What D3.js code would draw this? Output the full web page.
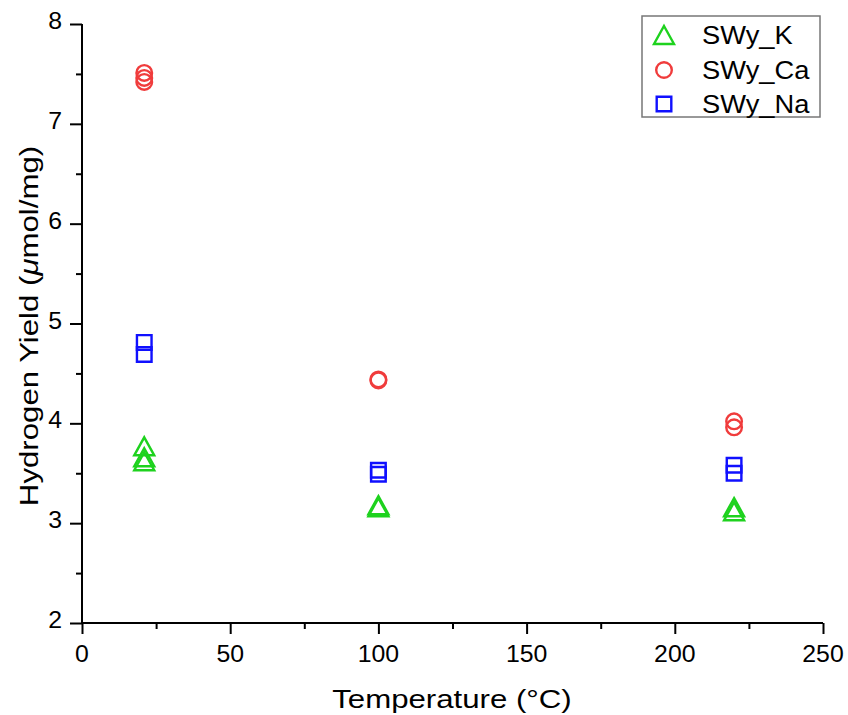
<!DOCTYPE html>
<html><head><meta charset="utf-8">
<script src="https://cdn.jsdelivr.net/npm/d3@7"></script>
<style>body{margin:0;background:#fff}svg{display:block}text{font-family:"Liberation Sans",Arial,sans-serif;fill:#000}</style>
</head><body><svg id="c" width="848" height="715"></svg>
<script>
// data
const seriesNames = ["SWy_K", "SWy_Ca", "SWy_Na"];
const kTemp  = [21, 21, 21, 100, 100, 220, 220];
const kYield = [3.77, 3.66, 3.62, 3.18, 3.16, 3.16, 3.12];
const caTemp  = [21, 21, 21, 100, 100, 220, 220];
const caYield = [7.51, 7.46, 7.42, 4.44, 4.43, 4.02, 3.96];
const naTemp  = [21, 21, 100, 100, 220, 220];
const naYield = [4.81, 4.69, 3.53, 3.49, 3.58, 3.50];
const xTicks = [0, 50, 100, 150, 200, 250];
const yTicks = [2, 3, 4, 5, 6, 7, 8];

const svg = d3.select("#c");
const x = d3.scaleLinear().domain([0, 250]).range([82, 823]);
const y = d3.scaleLinear().domain([2, 8]).range([623, 24]);

const green = "#1ed21e", red = "#f03c3c", blue = "#1010ff";

// axes
const xAxis = svg.append("g").attr("transform", `translate(0,${y(2)})`);
xAxis.call(d3.axisBottom(x).tickValues(d3.range(0, 251, 25)).tickSize(6).tickFormat(""));
xAxis.call(g => g.selectAll(".tick").filter(d => d % 50 === 0).select("line").attr("y2", 11));
const yAxis = svg.append("g").attr("transform", `translate(${x(0)},0)`);
yAxis.call(d3.axisLeft(y).tickValues(d3.range(2, 8.01, 0.5)).tickSize(6).tickFormat(""));
yAxis.call(g => g.selectAll(".tick").filter(d => Math.abs(d - Math.round(d)) < 1e-6).select("line").attr("x2", -12));
svg.selectAll(".domain").attr("stroke", "#000").attr("stroke-width", 2);
xAxis.select(".domain").attr("d", `M${x(0)},0H${x(250)}`);
yAxis.select(".domain").attr("d", `M0,${y(2)}V${y(8)}`);
svg.selectAll(".tick line").attr("stroke", "#000").attr("stroke-width", 2);

function wideText(g, tx, ty, str, size, sx, anchor, rot) {
  return g.append("text")
    .attr("transform", `translate(${tx},${ty})` + (rot ? ` rotate(${rot})` : "") + ` scale(${sx},1)`)
    .attr("text-anchor", anchor).attr("font-size", size).text(str);
}
xTicks.forEach(v => wideText(svg, x(v), 662, String(v), 23, 1.08, "middle"));
yTicks.forEach(v => wideText(svg, 62, y(v) + 5, String(v), 23, 1.08, "end"));

// axis titles
wideText(svg, 452, 708, "Temperature (°C)", 26, 1.2, "middle");
const yt = svg.append("text")
  .attr("transform", `translate(38,326) rotate(-90) scale(1.2,1)`)
  .attr("text-anchor", "middle").attr("font-size", 26);
yt.append("tspan").text("Hydrogen Yield (");
yt.append("tspan").attr("font-style", "italic").text("μ");
yt.append("tspan").text("mol/mg)");

// marker shapes
const tri = "M0,-9L10,9L-10,9Z";
const sq = "M-7.3,-7.3H7.3V7.3H-7.3Z";
const circ = d3.path(); circ.arc(0, 0, 7.8, 0, 2 * Math.PI);
const shapes = [tri, circ.toString(), sq];
const colors = [green, red, blue];

function draw(temps, vals, shape, color) {
  svg.append("g").selectAll("path").data(temps.map((t, i) => [t, vals[i]])).join("path")
    .attr("d", shape).attr("transform", d => `translate(${x(d[0])},${y(d[1])})`)
    .attr("fill", "none").attr("stroke", color).attr("stroke-width", 2.4);
}
draw(kTemp, kYield, tri, green);
draw(caTemp, caYield, circ.toString(), red);
draw(naTemp, naYield, sq, blue);

// legend
const lg = svg.append("g");
lg.append("rect").attr("x", 642).attr("y", 16).attr("width", 178).attr("height", 101)
  .attr("fill", "#fff").attr("stroke", "#777").attr("stroke-width", 1.5);
const rowsY = [35, 70, 104];
seriesNames.forEach((n, i) => {
  lg.append("path").attr("d", shapes[i]).attr("transform", `translate(664,${rowsY[i]})`)
    .attr("fill", "none").attr("stroke", colors[i]).attr("stroke-width", 2.4);
  wideText(lg, 702, rowsY[i] + 9, n, 26, 1.05, "start");
});
</script></body></html>
